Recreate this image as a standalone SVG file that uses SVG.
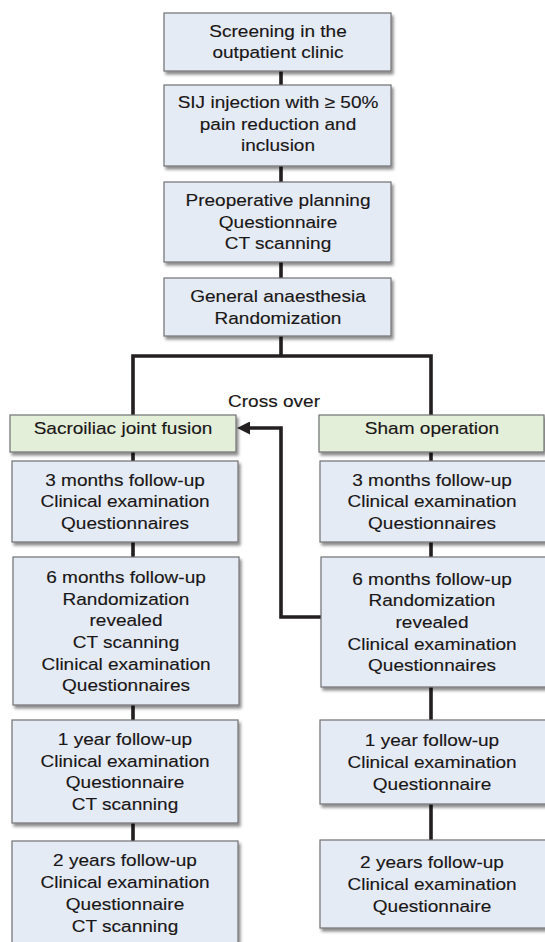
<svg xmlns="http://www.w3.org/2000/svg" width="545" height="942" viewBox="0 0 545 942">
<defs>
<style>
.box{fill:#e5ebf5;stroke:#707173;stroke-width:1.2;filter:url(#sh)}
.gbox{fill:#e4efd9;stroke:#707173;stroke-width:1.2;filter:url(#sh)}
.t{font-family:"Liberation Sans",Arial,sans-serif;font-size:17px;fill:#1a1718;text-anchor:middle;stroke:#1a1718;stroke-width:0.15}
.c{fill:none;stroke:#231f20;stroke-width:3.6;stroke-linejoin:miter}
</style>
<filter id="sh" x="-10%" y="-10%" width="125%" height="130%">
<feDropShadow dx="2" dy="3" stdDeviation="1.6" flood-color="#000" flood-opacity="0.45"/>
</filter>
<marker id="ah" viewBox="0 0 10 10" refX="4.6" refY="5" markerUnits="userSpaceOnUse" markerWidth="13" markerHeight="13" orient="auto">
<path d="M0,0 L10,5 L0,10 z" fill="#231f20"/>
</marker>
</defs>
<rect width="545" height="942" fill="#fff"/>

<g id="connectors">
<path class="c" d="M281,71 V85"/>
<path class="c" d="M281,166 V182"/>
<path class="c" d="M281,262 V278"/>
<path class="c" d="M281,336 V356"/>
<path class="c" d="M133,415 V356 H431 V415"/>
<path class="c" d="M133,452 V461"/>
<path class="c" d="M133,542 V557"/>
<path class="c" d="M133,705 V720"/>
<path class="c" d="M133,823 V841"/>
<path class="c" d="M431,452 V461"/>
<path class="c" d="M431,542 V557"/>
<path class="c" d="M431,687 V720"/>
<path class="c" d="M431,804 V840"/>
<path class="c" d="M321,617 H281 V428 H244" marker-end="url(#ah)"/>
<text class="t" transform="translate(274 0) scale(1.12 1)" x="0" y="407">Cross over</text>
</g>

<g id="n1">
<rect class="box" x="164" y="13" width="227" height="58"/>
<text class="t" transform="translate(278 0) scale(1.12 1)"><tspan x="0" y="37">Screening in the</tspan><tspan x="0" y="58.5">outpatient clinic</tspan></text>
</g>
<g id="n2">
<rect class="box" x="164" y="85" width="227" height="81"/>
<text class="t" transform="translate(278 0) scale(1.12 1)"><tspan x="0" y="108.5">SIJ injection with ≥ 50%</tspan><tspan x="0" y="130">pain reduction and</tspan><tspan x="0" y="151.5">inclusion</tspan></text>
</g>
<g id="n3">
<rect class="box" x="164" y="182" width="227" height="80"/>
<text class="t" transform="translate(278 0) scale(1.12 1)"><tspan x="0" y="206">Preoperative planning</tspan><tspan x="0" y="227.7">Questionnaire</tspan><tspan x="0" y="249.4">CT scanning</tspan></text>
</g>
<g id="n4">
<rect class="box" x="164" y="278" width="227" height="58"/>
<text class="t" transform="translate(278 0) scale(1.12 1)"><tspan x="0" y="302">General anaesthesia</tspan><tspan x="0" y="323.7">Randomization</tspan></text>
</g>

<g id="fusion">
<rect class="gbox" x="10" y="415" width="226" height="37"/>
<text class="t" transform="translate(123 0) scale(1.12 1)" x="0" y="434">Sacroiliac joint fusion</text>
</g>
<g id="sham">
<rect class="gbox" x="319" y="415" width="225" height="37"/>
<text class="t" transform="translate(432 0) scale(1.12 1)" x="0" y="434">Sham operation</text>
</g>

<g id="l3m">
<rect class="box" x="12" y="461" width="226" height="81"/>
<text class="t" transform="translate(125 0) scale(1.12 1)"><tspan x="0" y="485.8">3 months follow-up</tspan><tspan x="0" y="507.5">Clinical examination</tspan><tspan x="0" y="529.2">Questionnaires</tspan></text>
</g>
<g id="l6m">
<rect class="box" x="13" y="557" width="226" height="148"/>
<text class="t" transform="translate(126 0) scale(1.12 1)"><tspan x="0" y="583">6 months follow-up</tspan><tspan x="0" y="604.7">Randomization</tspan><tspan x="0" y="626.4">revealed</tspan><tspan x="0" y="648.1">CT scanning</tspan><tspan x="0" y="669.8">Clinical examination</tspan><tspan x="0" y="691.5">Questionnaires</tspan></text>
</g>
<g id="l1y">
<rect class="box" x="12" y="720" width="226" height="103"/>
<text class="t" transform="translate(125 0) scale(1.12 1)"><tspan x="0" y="745">1 year follow-up</tspan><tspan x="0" y="766.7">Clinical examination</tspan><tspan x="0" y="788.4">Questionnaire</tspan><tspan x="0" y="810.1">CT scanning</tspan></text>
</g>
<g id="l2y">
<rect class="box" x="12" y="841" width="226" height="104"/>
<text class="t" transform="translate(125 0) scale(1.12 1)"><tspan x="0" y="866.5">2 years follow-up</tspan><tspan x="0" y="888.2">Clinical examination</tspan><tspan x="0" y="909.9">Questionnaire</tspan><tspan x="0" y="931.6">CT scanning</tspan></text>
</g>

<g id="r3m">
<rect class="box" x="320" y="461" width="226" height="81"/>
<text class="t" transform="translate(432 0) scale(1.12 1)"><tspan x="0" y="485.8">3 months follow-up</tspan><tspan x="0" y="507.5">Clinical examination</tspan><tspan x="0" y="529.2">Questionnaires</tspan></text>
</g>
<g id="r6m">
<rect class="box" x="321" y="557" width="226" height="130"/>
<text class="t" transform="translate(432 0) scale(1.12 1)"><tspan x="0" y="584.6">6 months follow-up</tspan><tspan x="0" y="606.3">Randomization</tspan><tspan x="0" y="628">revealed</tspan><tspan x="0" y="649.7">Clinical examination</tspan><tspan x="0" y="671.4">Questionnaires</tspan></text>
</g>
<g id="r1y">
<rect class="box" x="320" y="720" width="226" height="84"/>
<text class="t" transform="translate(432 0) scale(1.12 1)"><tspan x="0" y="746.3">1 year follow-up</tspan><tspan x="0" y="768">Clinical examination</tspan><tspan x="0" y="789.7">Questionnaire</tspan></text>
</g>
<g id="r2y">
<rect class="box" x="320" y="840" width="226" height="88"/>
<text class="t" transform="translate(432 0) scale(1.12 1)"><tspan x="0" y="868.3">2 years follow-up</tspan><tspan x="0" y="890">Clinical examination</tspan><tspan x="0" y="911.7">Questionnaire</tspan></text>
</g>
</svg>
